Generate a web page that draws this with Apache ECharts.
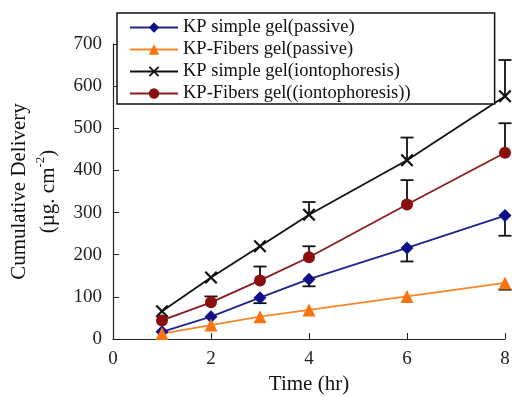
<!DOCTYPE html>
<html><head><meta charset="utf-8">
<script src="https://cdn.jsdelivr.net/npm/echarts@6/dist/echarts.min.js"></script>
<style>html,body{margin:0;padding:0;background:#fff}#c{width:512px;height:397px}</style>
</head><body><div id="c"></div>
<script>
const times = [1, 2, 3, 4, 6, 8];
const simplePassive = [17, 53, 98, 142, 216, 293];
const fibersPassive = [13, 33, 53, 69, 101, 133];
const simpleIonto = [66, 146, 220, 295, 424, 576];
const fibersIonto = [44, 87, 139, 194, 319, 442];
// error bars: [x, y, error end value]
const simplePassiveErr = [[3, 98, 85], [4, 142, 125], [6, 216, 184], [8, 293, 245]];
const fibersPassiveErr = [[8, 133, 117]];
const simpleIontoErr = [[4, 295, 325], [6, 424, 478], [8, 576, 662]];
const fibersIontoErr = [[2, 87, 101], [3, 139, 172], [4, 194, 220], [6, 319, 377], [8, 442, 512]];
const xTicks = [0, 2, 4, 6, 8];
const yTicks = [0, 100, 200, 300, 400, 500, 600, 700];

const font = '"Liberation Serif", "Times New Roman", serif';
const pair = (ys) => times.map((t, i) => [t, ys[i]]);
const xMark = 'path://M0,1.2L1.2,0L5,3.8L8.8,0L10,1.2L6.2,5L10,8.8L8.8,10L5,6.2L1.2,10L0,8.8L3.8,5Z';

function errSeries(data) {
  return {
    type: 'custom', data: data, z: 1, silent: true,
    renderItem: function (params, api) {
      const p0 = api.coord([api.value(0), api.value(1)]);
      const p1 = api.coord([api.value(0), api.value(2)]);
      const w = 6.5;
      return { type: 'group', children: [
        { type: 'line', shape: { x1: p0[0], y1: p0[1], x2: p1[0], y2: p1[1] }, style: { stroke: '#111', lineWidth: 1.8 } },
        { type: 'line', shape: { x1: p1[0] - w, y1: p1[1], x2: p1[0] + w, y2: p1[1] }, style: { stroke: '#111', lineWidth: 1.8 } }
      ]};
    }
  };
}

const chart = echarts.init(document.getElementById('c'), null, { renderer: 'canvas' });
chart.setOption({
  animation: false,
  backgroundColor: '#fff',
  grid: { left: 113, right: 7, top: 44, bottom: 58, containLabel: false, outerBoundsMode: 'none' },
  legend: {
    orient: 'vertical', left: 117, top: 13,
    padding: [5, 84, 1, 12],
    itemWidth: 48, itemHeight: 13, itemGap: 3,
    backgroundColor: '#fff', borderColor: '#111', borderWidth: 1.5,
    textStyle: { fontFamily: font, fontSize: 18.5, color: '#111', lineHeight: 18 },
    data: ['KP simple gel(passive)', 'KP-Fibers gel(passive)', 'KP simple gel(iontophoresis)', 'KP-Fibers gel((iontophoresis))']
  },
  xAxis: {
    type: 'value', min: 0, max: 8, interval: 2,
    name: 'Time (hr)', nameLocation: 'middle', nameGap: 34,
    nameTextStyle: { fontFamily: font, fontSize: 21, color: '#111' },
    axisLine: { lineStyle: { color: '#222', width: 1.2 } },
    axisTick: { inside: true, length: 6, lineStyle: { color: '#222' } },
    axisLabel: { fontFamily: font, fontSize: 19, color: '#222', margin: 11 },
    splitLine: { show: false }
  },
  yAxis: {
    type: 'value', min: 0, max: 700, interval: 100,
    name: 'Cumulative Delivery\n(µg. cm{sup|-2})', nameLocation: 'middle', nameGap: 43, nameRotate: 90,
    nameTextStyle: { fontFamily: font, fontSize: 21, color: '#111', lineHeight: 29,
      rich: { sup: { fontFamily: font, fontSize: 13, verticalAlign: 'top', padding: [0, 0, 8, 0] } } },
    axisLine: { show: true, lineStyle: { color: '#222', width: 1.2 } },
    axisTick: { show: true, inside: true, length: 6, lineStyle: { color: '#222' } },
    axisLabel: { fontFamily: font, fontSize: 19, color: '#222', margin: 11 },
    splitLine: { show: false }
  },
  series: [
    errSeries(simplePassiveErr), errSeries(fibersPassiveErr), errSeries(simpleIontoErr), errSeries(fibersIontoErr),
    { name: 'KP simple gel(passive)', type: 'line', data: pair(simplePassive), z: 3,
      symbol: 'diamond', symbolSize: 13, lineStyle: { color: '#22228c', width: 1.8 }, itemStyle: { color: '#10108a' } },
    { name: 'KP-Fibers gel(passive)', type: 'line', data: pair(fibersPassive), z: 3,
      symbol: 'triangle', symbolSize: 13, lineStyle: { color: '#f7862a', width: 1.8 }, itemStyle: { color: '#f77410' } },
    { name: 'KP simple gel(iontophoresis)', type: 'line', data: pair(simpleIonto), z: 3,
      symbol: xMark, symbolSize: 13, lineStyle: { color: '#111', width: 1.8 }, itemStyle: { color: '#111' } },
    { name: 'KP-Fibers gel((iontophoresis))', type: 'line', data: pair(fibersIonto), z: 3,
      symbol: 'circle', symbolSize: 12, lineStyle: { color: '#8b1c1c', width: 1.8 }, itemStyle: { color: '#8a1010' } }
  ]
});
</script></body></html>
